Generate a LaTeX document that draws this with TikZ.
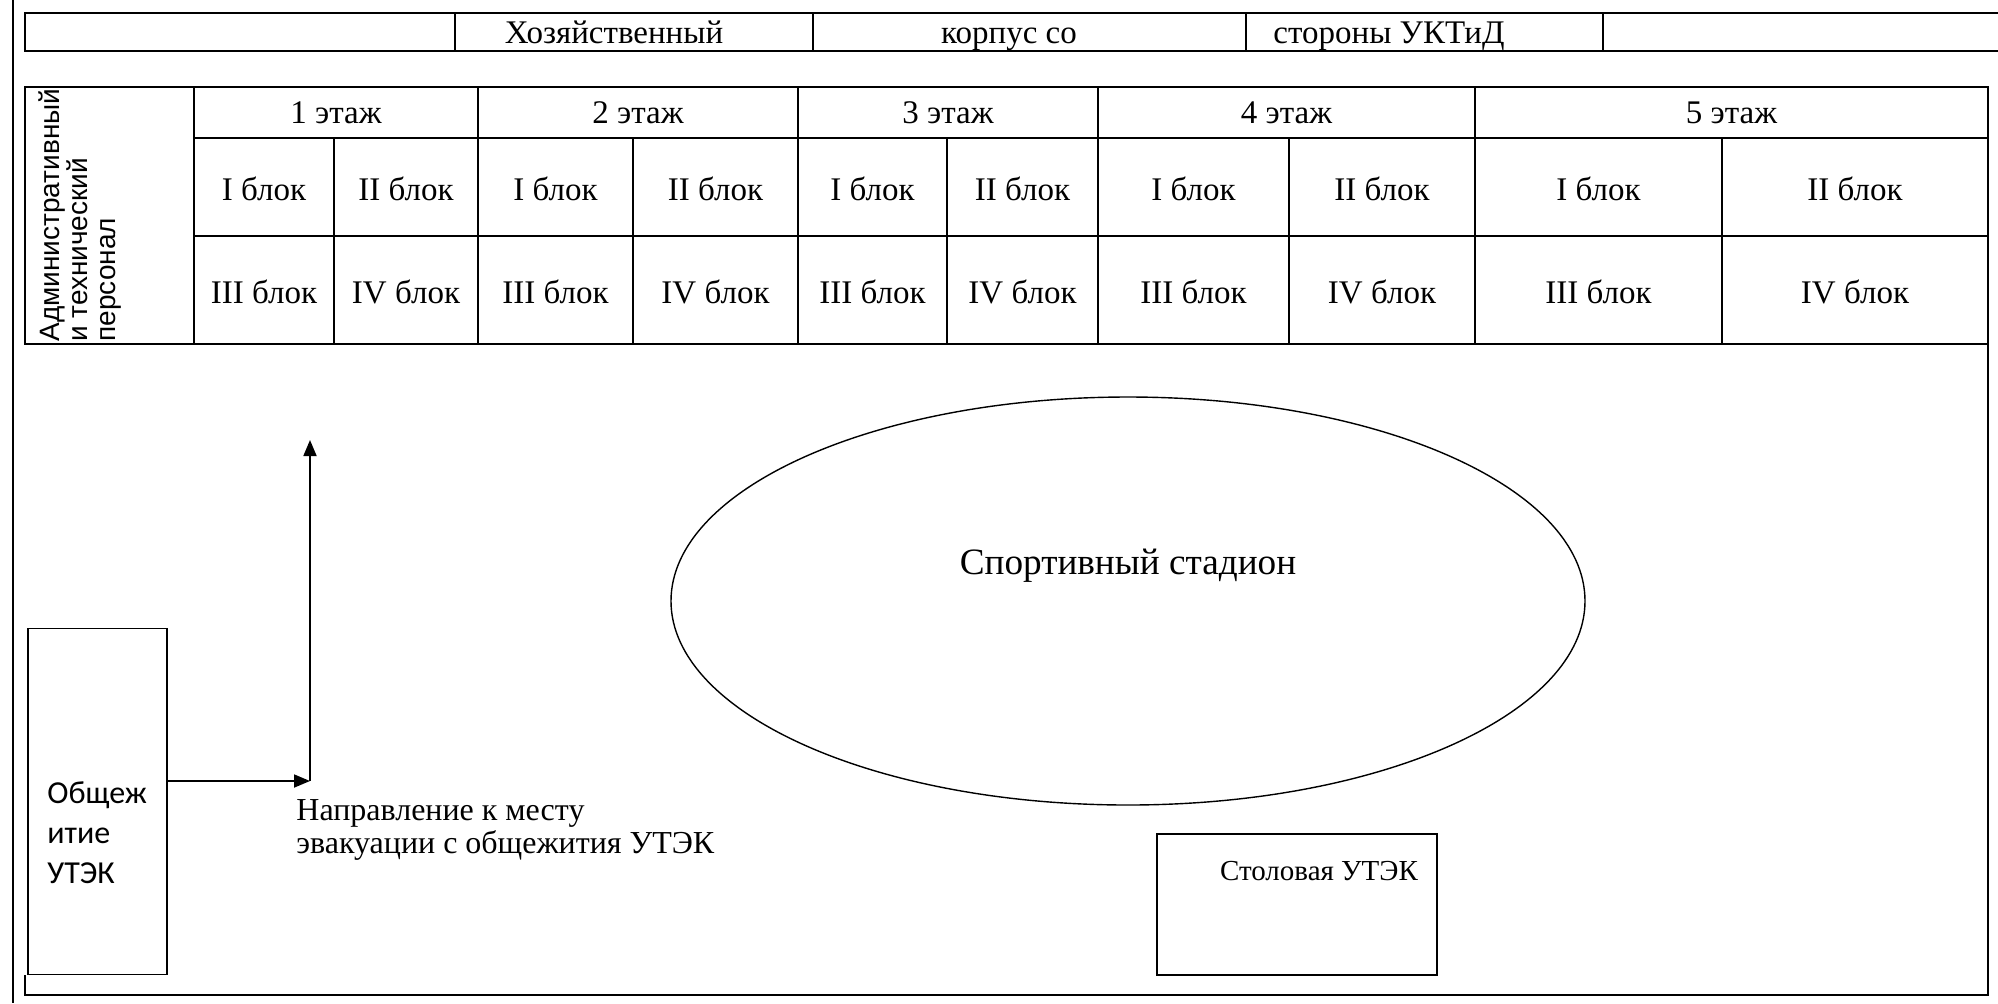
\documentclass[tikz,border=0pt]{standalone}
\usepackage{fontspec}
\setmainfont{Liberation Serif}
\newfontfamily\arialfont{Liberation Sans}
\newfontfamily\calibrifont{Carlito}
\usetikzlibrary{arrows.meta,shapes.geometric,positioning}

\begin{document}
\begin{tikzpicture}[x=0.5pt, y=-0.5pt, frame/.style = {draw, line width=0.9pt},
		txt/.style = {font=\fontsize{16.5}{18}\selectfont, inner sep=0pt,
				anchor=base},
		block/.style = {rectangle, draw, line width=0.9pt, inner sep=0pt},
		stadium/.style = {ellipse, draw, line width=0.7pt, inner sep=0pt,
				minimum width=457pt, minimum height=204pt},
		arrow/.style = {-{Triangle[length=8pt, width=6.5pt]}, line width=0.9pt}
	]
	\useasboundingbox (0,0) rectangle (1998,1003);

	% Page edge
	\draw[frame] (13,0) -- (13,1003);

	% Header strip
	\draw[frame] (1998,13) -- (25,13) -- (25,51) -- (1998,51);
	\foreach \x in {455,813,1246,1603} \draw[frame] (\x,13) -- (\x,51);
	\node[txt] (hoz) at (614,43) {Хозяйственный}; \node[txt] (korp) at
	(1009,43) {корпус со}; \node[txt] (stor) at (1389,43) {стороны УКТиД};

	% Floors table
	\draw[frame] (25,87) rectangle (1988,344);
	\draw[frame] (194,138) -- (1988,138); \draw[frame] (194,236) -- (1988,236);
	\draw[frame] (194,87) -- (194,344);
	\node[font=\arialfont\fontsize{14}{14}\selectfont, rotate=90, align=left,
		anchor=west, inner sep=0pt] (staff) at (80,342)
	{Административный\\и технический\\персонал};
	\foreach \a/\m/\b [count=\i] in {194/334/478, 478/633/798, 798/947/1098,
			1098/1289/1475, 1475/1722/1988} {
			\draw[frame] (\m,138) -- (\m,344); \draw[frame] (\b,87) -- (\b,344);
			\node[txt] (fl\i) at ({(\a+\b)/2},123) {\i\ этаж};
			\node[txt] (bl\i-1) at ({(\a+\m)/2},200) {I блок};
			\node[txt] (bl\i-2) at ({(\m+\b)/2},200) {II блок};
			\node[txt] (bl\i-3) at ({(\a+\m)/2},303) {III блок};
			\node[txt] (bl\i-4) at ({(\m+\b)/2},303) {IV блок};
		}

	% Yard
	\draw[frame] (25,975) -- (25,995) -- (1988,995) -- (1988,344);

	% Dormitory and way out
	\node[block, minimum width=69.5pt, minimum height=173pt] (dorm) at
	(97.5,801.5) {}; \node[font=\calibrifont\fontsize{16}{20}\selectfont,
		align=left, anchor=west, inner sep=0pt] (dormtxt) at (47,833)
	{Общеж\\итие\\УТЭК};
	\coordinate (turn) at (310,781); \coordinate (exit) at (310,440);
	\draw[arrow] (dorm.east |- turn) -- (turn);
	\draw[arrow] (turn) -- (exit);
	\node[font=\fontsize{16}{16.5}\selectfont, inner sep=0pt, align=left,
		anchor=north west] (dir) at (296,799)
	{Направление к месту\\эвакуации с общежития УТЭК};

	% Stadium
	\node[stadium] (stad) at (1128,601) {}; \node[font=\fontsize{18.6}{21}\selectfont,
		inner sep=0pt] (stadtxt) at (1128,566) {Спортивный стадион};

	% Canteen
	\node[block, minimum width=140pt, minimum height=70.5pt] (canteen) at
	(1297,904.5) {}; \node[font=\fontsize{14.5}{16}\selectfont, inner sep=0pt]
	(canteentxt) at (1319,871) {Столовая УТЭК};
\end{tikzpicture}
\end{document}
